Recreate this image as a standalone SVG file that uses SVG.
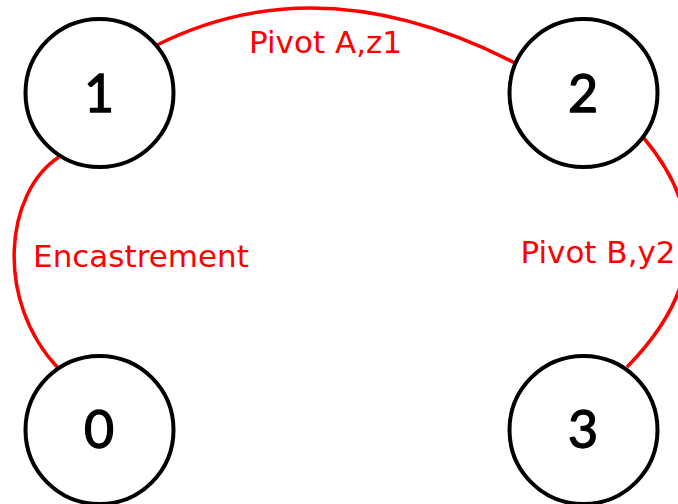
<svg xmlns="http://www.w3.org/2000/svg" width="678" height="504" viewBox="0 0 678 504">
<style>
.node circle{fill:#fff;stroke:#000;stroke-width:4}
.node text{font-family:Lato,"DejaVu Sans",sans-serif;font-size:52px;fill:#000;stroke:#000;stroke-width:1.3;text-anchor:middle}
.edge path{fill:none;stroke:#f00;stroke-width:3.5}
.lbl{font-family:"DejaVu Sans",sans-serif;font-size:31px;fill:#f00;text-anchor:middle}
</style>
<rect width="678" height="504" fill="#fff"/>
<g id="connectors" class="edge">
<path d="M155,46 Q320,-38 517,64"/>
<path d="M59,157 C5,192 -6,300 58,368"/>
<path d="M643,137 Q740,252 627,367"/>
<text class="lbl" x="325.5" y="52.5">Pivot A,z1</text>
<text class="lbl" x="141" y="266.5">Encastrement</text>
<text class="lbl" x="598" y="262.5">Pivot B,y2</text>
</g>
<g id="node1" class="node"><circle cx="99.5" cy="93" r="74"/><text x="99" y="111.5">1</text></g>
<g id="node2" class="node"><circle cx="583.5" cy="93" r="74"/><text x="583" y="111.5">2</text></g>
<g id="node0" class="node"><circle cx="99.5" cy="430" r="74"/><text x="99" y="448">0</text></g>
<g id="node3" class="node"><circle cx="583.5" cy="430" r="74"/><text x="583" y="448">3</text></g>
</svg>
